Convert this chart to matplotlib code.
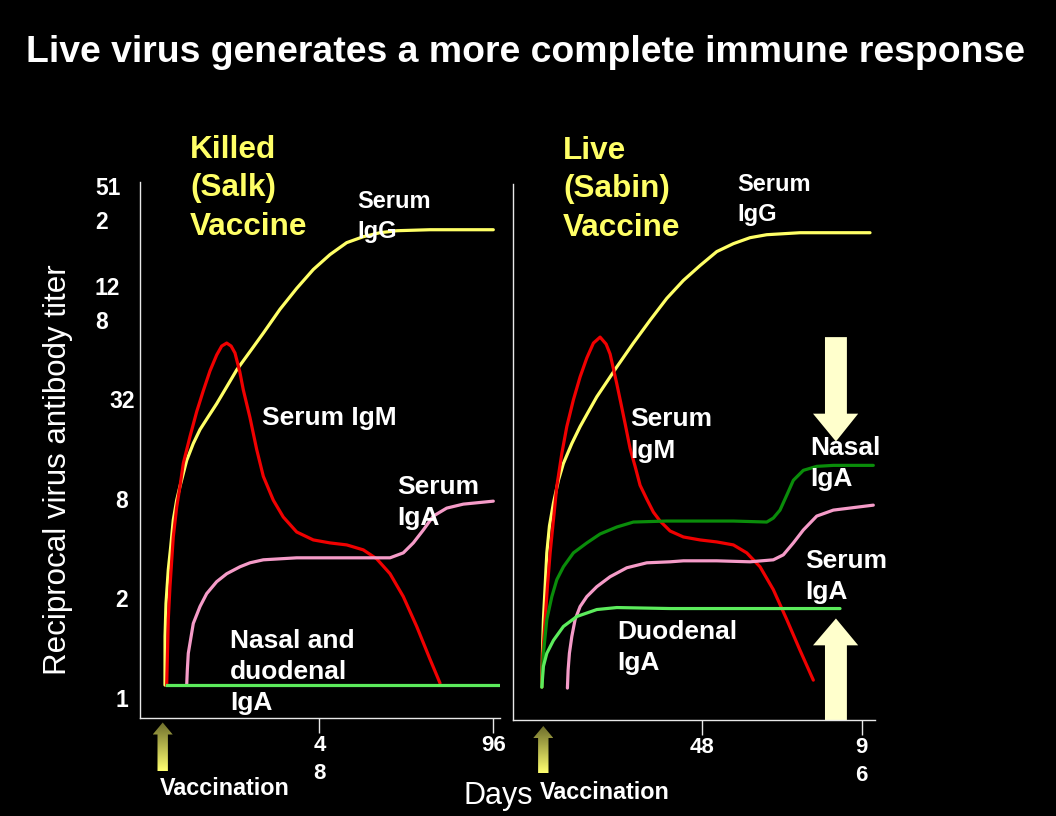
import numpy as np
import matplotlib
matplotlib.use("Agg")
import matplotlib.pyplot as plt
from matplotlib.patches import Polygon
from matplotlib.colors import LinearSegmentedColormap
from matplotlib.transforms import blended_transform_factory

# ---------------- data ----------------
titer_labels = ["1", "2", "8", "32", "12\n8", "51\n2"]
titer_levels = [0, 1, 2, 3, 4, 5]

day_ticks = [48, 96]
killed_tick_labels = ["4\n8", "96"]
live_tick_labels = ["48", "9\n6"]

# Killed (Salk) vaccine  (x: days, y: titer level index)
killed_igg_day = [5.33, 5.35, 5.61, 6.24, 6.91, 7.62, 8.56, 9.48, 11.33, 13.15, 15.0, 17.29, 19.61, 22.38,
                  25.14, 29.72, 32.49, 37.10, 41.71, 46.30, 50.91, 55.52, 60.11, 64.72, 69.34, 78.54, 96.02]
killed_igg_lvl = [0.18, 0.67, 1.00, 1.34, 1.57, 1.84, 2.04, 2.18, 2.44, 2.61, 2.75, 2.88, 3.01, 3.18,
                  3.35, 3.58, 3.72, 3.96, 4.17, 4.36, 4.51, 4.63, 4.69, 4.73, 4.75, 4.76, 4.76]
killed_igm_day = [5.80, 6.24, 6.71, 7.62, 8.56, 9.48, 10.39, 12.24, 14.09, 15.91, 17.76, 19.61, 21.0, 22.38,
                  23.6, 24.67, 26.0, 26.96, 28.81, 30.66, 32.49, 35.25, 38.01, 41.71, 46.30, 50.91, 55.52,
                  60.11, 63.81, 67.49, 71.16, 74.86, 78.54, 81.30]
killed_igm_lvl = [0.18, 0.84, 1.17, 1.67, 1.97, 2.18, 2.41, 2.68, 2.93, 3.14, 3.34, 3.50, 3.59, 3.62,
                  3.59, 3.52, 3.33, 3.15, 2.87, 2.55, 2.28, 2.04, 1.87, 1.72, 1.64, 1.61, 1.59,
                  1.54, 1.45, 1.30, 1.07, 0.77, 0.44, 0.20]
killed_iga_day = [11.33, 11.5, 11.77, 13.15, 15.0, 16.85, 19.61, 22.38, 26.05, 28.81, 32.49, 41.71, 50.91,
                  60.11, 67.49, 71.16, 73.92, 76.69, 79.45, 83.15, 87.73, 96.02]
killed_iga_lvl = [0.18, 0.33, 0.50, 0.80, 0.97, 1.10, 1.22, 1.30, 1.37, 1.41, 1.44, 1.46, 1.46,
                  1.46, 1.46, 1.51, 1.61, 1.74, 1.88, 1.96, 2.00, 2.03]
killed_mucosal_day = [5.8, 97.8]
killed_mucosal_lvl = [0.18, 0.18]

# Live (Sabin) vaccine
live_igg_day = [-0.24, -0.06, 0.24, 0.75, 1.26, 2.05, 3.25, 4.75, 6.26, 8.79, 11.28, 13.78, 16.31, 19.32,
                22.33, 27.32, 32.35, 37.38, 42.37, 47.40, 52.42, 57.42, 62.44, 67.47, 77.5, 98.56]
live_igg_lvl = [0.18, 0.52, 0.86, 1.19, 1.53, 1.80, 2.03, 2.26, 2.43, 2.63, 2.80, 2.95, 3.10, 3.25,
                3.40, 3.64, 3.87, 4.09, 4.27, 4.42, 4.56, 4.64, 4.70, 4.73, 4.75, 4.75]
live_igm_day = [-0.24, 0.06, 0.75, 1.44, 2.26, 3.25, 4.27, 5.78, 7.28, 9.27, 11.28, 13.30, 15.29, 17.30,
                19.11, 20.31, 22.33, 23.53, 24.83, 26.33, 27.84, 29.34, 31.36, 33.34, 35.36, 38.37,
                42.37, 47.40, 52.42, 57.42, 61.45, 65.45, 69.45, 73.49, 77.49, 81.49]
live_igm_lvl = [0.18, 0.52, 0.86, 1.19, 1.53, 1.86, 2.20, 2.53, 2.80, 3.07, 3.30, 3.49, 3.64, 3.70,
                3.63, 3.53, 3.23, 3.04, 2.83, 2.58, 2.40, 2.21, 2.07, 1.94, 1.85, 1.75,
                1.69, 1.66, 1.64, 1.61, 1.53, 1.39, 1.16, 0.86, 0.55, 0.25]
live_nasal_day = [-0.24, 0.24, 1.26, 2.77, 4.27, 6.26, 9.27, 13.30, 17.30, 22.33, 27.32, 37.38, 47.40,
                  57.42, 67.47, 69.45, 71.46, 73.49, 75.48, 78.48, 82.52, 87.51, 99.55]
live_nasal_lvl = [0.18, 0.52, 0.86, 1.09, 1.26, 1.39, 1.53, 1.63, 1.72, 1.79, 1.84, 1.85, 1.85,
                  1.85, 1.84, 1.88, 1.96, 2.11, 2.26, 2.36, 2.40, 2.41, 2.41]
live_serum_iga_day = [7.46, 7.67, 8.06, 8.79, 9.78, 11.28, 13.30, 16.31, 20.31, 25.34, 31.36, 38.37, 42.37,
                      52.42, 62.44, 69.45, 72.46, 75.48, 78.48, 82.52, 87.51, 99.55]
live_serum_iga_lvl = [0.17, 0.35, 0.52, 0.69, 0.86, 0.99, 1.09, 1.19, 1.29, 1.38, 1.43, 1.44, 1.45,
                      1.45, 1.44, 1.46, 1.51, 1.63, 1.76, 1.90, 1.96, 2.01]
live_duodenal_day = [-0.24, 0.24, 1.26, 3.25, 6.26, 10.29, 16.31, 22.33, 38.37, 89.53]
live_duodenal_lvl = [0.18, 0.39, 0.52, 0.65, 0.79, 0.89, 0.96, 0.98, 0.97, 0.97]

# ---------------- style ----------------
W, H = 1056, 816
plt.rcParams['font.family'] = ['Liberation Sans', 'DejaVu Sans']
BG = 'black'
WHITE = 'white'
YEL = '#FFFF66'
RED = '#F00000'
PINK = '#F59BC8'
DKGREEN = '#0A8C0A'
LTGREEN = '#5CEB5C'
CREAM = '#FFFFCC'
LW = 2.3

fig = plt.figure(figsize=(W / 100, H / 100), dpi=100, facecolor=BG)

def fx(px):
    return px / W

def fy(py):
    return 1 - py / H

# overlay axes in pixel coordinates for annotations
ov = fig.add_axes([0, 0, 1, 1], zorder=0)
ov.set_xlim(0, W)
ov.set_ylim(H, 0)
ov.axis('off')
ov.patch.set_alpha(0)

axL = fig.add_axes([fx(140), fy(718), 360 / W, 536 / H], zorder=1)
axR = fig.add_axes([fx(513.3), fy(720), (875 - 513.3) / W, 536 / H], zorder=1)

for ax in (axL, axR):
    ax.set_facecolor('none')
    ax.set_ylim(-0.151, 5.24)
    for s in ('top', 'right'):
        ax.spines[s].set_visible(False)
    for s in ('left', 'bottom'):
        ax.spines[s].set_color('#E8E8E8')
        ax.spines[s].set_linewidth(1.0)
    ax.set_yticks([])
    ax.tick_params(axis='x', which='major', direction='out', length=11, width=1,
                   color='#E8E8E8', pad=1.0, labelcolor=WHITE, labelsize=16)
    ax.tick_params(axis='x', which='minor', direction='in', length=4, width=1, color='#E8E8E8')
    ax.set_xticks(day_ticks, minor=True)

axL.set_xlim(-1.57, 97.87)
axR.set_xlim(-8.83, 100.06)
axL.set_xticks(day_ticks)
axL.set_xticklabels(killed_tick_labels, fontweight='bold', linespacing=1.45)
axR.set_xticks(day_ticks)
axR.set_xticklabels(live_tick_labels, fontweight='bold', linespacing=1.45)

# curves
kw = dict(lw=LW, solid_capstyle='round', solid_joinstyle='round', zorder=3)
axL.plot(killed_igg_day, killed_igg_lvl, color=YEL, **kw)
axL.plot(killed_igm_day, killed_igm_lvl, color=RED, **kw)
axL.plot(killed_iga_day, killed_iga_lvl, color=PINK, **kw)
axL.plot(killed_mucosal_day, killed_mucosal_lvl, color=LTGREEN, lw=LW, zorder=3)

axR.plot(live_igg_day, live_igg_lvl, color=YEL, **kw)
axR.plot(live_igm_day, live_igm_lvl, color=RED, **kw)
axR.plot(live_nasal_day, live_nasal_lvl, color=DKGREEN, **kw)
axR.plot(live_serum_iga_day, live_serum_iga_lvl, color=PINK, **kw)
axR.plot(live_duodenal_day, live_duodenal_lvl, color=LTGREEN, **kw)

# big cream arrows in the live panel (down and up)
down_arrow = [(85.0, 3.70), (91.6, 3.70), (91.6, 2.93), (95.0, 2.93), (88.3, 2.65),
              (81.4, 2.93), (85.0, 2.93)]
up_arrow = [(85.0, -0.151), (91.6, -0.151), (91.6, 0.60), (95.0, 0.60), (88.3, 0.87),
            (81.4, 0.60), (85.0, 0.60)]
for verts in (down_arrow, up_arrow):
    axR.add_patch(Polygon(verts, closed=True, facecolor=CREAM, edgecolor='none',
                          zorder=2, clip_on=False))

# y tick labels (left panel only)
trans = blended_transform_factory(fig.transFigure, axL.transData)
for lab, lvl in zip(titer_labels, titer_levels):
    if '\n' in lab:
        axL.text(fx(95), lvl, lab, transform=trans, ha='left', va='center', color=WHITE,
                 fontsize=16.5, fontweight='bold', linespacing=1.6)
    else:
        axL.text(fx(122), lvl + 0.03, lab, transform=trans, ha='center', va='center', color=WHITE,
                 fontsize=16.5, fontweight='bold')

# gradient vaccination arrows
cmap = LinearSegmentedColormap.from_list('vac', ['#6E6E2C', '#FFFF70'])
grad = np.linspace(0, 1, 200).reshape(-1, 1)
def vac_arrow(cx, tip, bottom):
    hw, sw, hh = 10, 5.2, 12
    verts = [(cx, tip), (cx + hw, tip + hh), (cx + sw, tip + hh), (cx + sw, bottom),
             (cx - sw, bottom), (cx - sw, tip + hh), (cx - hw, tip + hh)]
    poly = Polygon(verts, closed=True, facecolor='none', edgecolor='none')
    ov.add_patch(poly)
    im = ov.imshow(grad, cmap=cmap, aspect='auto', origin='upper',
                   extent=(cx - hw, cx + hw, bottom, tip), interpolation='bilinear')
    im.set_clip_path(poly)

vac_arrow(162.7, 722.5, 771)
vac_arrow(543.3, 726, 773)
ov.set_xlim(0, W)
ov.set_ylim(H, 0)

# ---------------- texts ----------------
def ftext(px, py, s, **kw):
    fig.text(fx(px), fy(py), s, **kw)

ftext(526, 35, "Live virus generates a more complete immune response", ha='center', va='top',
      color=WHITE, fontsize=26.9, fontweight='bold')

ftext(190, 135, "Killed\n(Salk)\nVaccine", ha='left', va='top', color=YEL,
      fontsize=22.7, fontweight='bold', linespacing=1.36)
ftext(563, 136, "Live\n(Sabin)\nVaccine", ha='left', va='top', color=YEL,
      fontsize=22.7, fontweight='bold', linespacing=1.36)

lab_kw = dict(ha='left', va='top', color=WHITE, fontweight='bold', linespacing=1.38)
ftext(357, 190, "Serum\nIgG", fontsize=17, **lab_kw)
ftext(737, 173, "Serum\nIgG", fontsize=17, **lab_kw)
ftext(262, 405.7, "Serum IgM", fontsize=19, **lab_kw)
ftext(397, 475, "Serum\nIgA", fontsize=19, **lab_kw)
ftext(230, 629, "Nasal and\nduodenal\nIgA", fontsize=19, **lab_kw)
ftext(630, 407.5, "Serum\nIgM", fontsize=19, **lab_kw)
ftext(810, 436, "Nasal\nIgA", fontsize=19, **lab_kw)
ftext(805, 548.6, "Serum\nIgA", fontsize=19, **lab_kw)
ftext(617, 620, "Duodenal\nIgA", fontsize=19, **lab_kw)

ftext(160, 776.7, "Vaccination", ha='left', va='top', color=WHITE, fontsize=16.8, fontweight='bold')
ftext(540, 781, "Vaccination", ha='left', va='top', color=WHITE, fontsize=16.8, fontweight='bold')
ftext(463, 781, "Days", ha='left', va='top', color=WHITE, fontsize=22)

ftext(58, 470, "Reciprocal virus antibody titer", ha='center', va='center', rotation=90,
      color=WHITE, fontsize=22.5)

fig.savefig('out.png', dpi=100, facecolor=BG)
